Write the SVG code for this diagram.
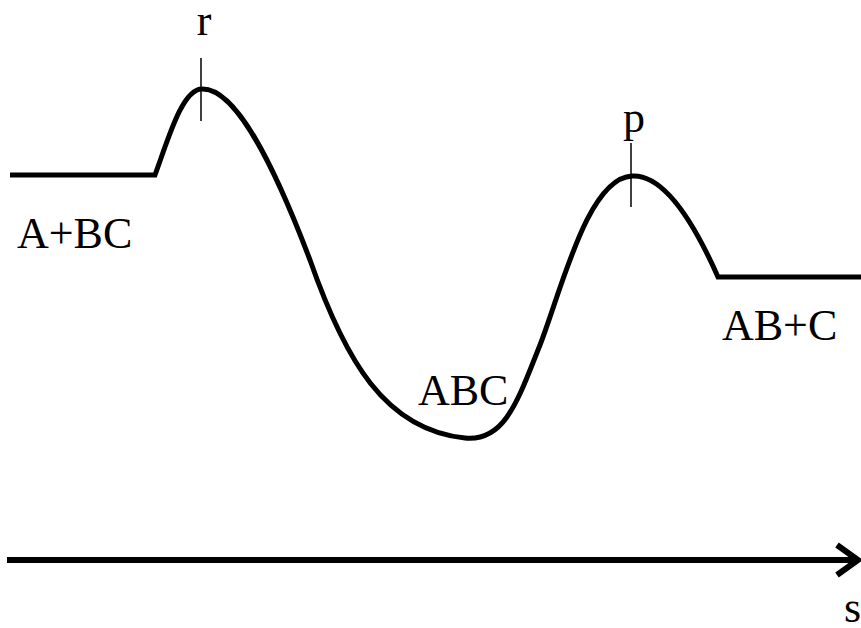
<svg xmlns="http://www.w3.org/2000/svg" width="861" height="628" viewBox="0 0 861 628">
<style>
text{font-family:"Liberation Serif","Times New Roman",serif;font-size:44px;fill:#000}
.curve{fill:none;stroke:#000;stroke-width:5;stroke-linejoin:miter}
.tick{stroke:#000;stroke-width:1.5}
.axis{fill:none;stroke:#000;stroke-width:6}
</style>
<rect width="861" height="628" fill="#fff"/>
<g id="connectors">
<path id="profile" class="curve" d="M10,175 H155 C168,140 182,89 202,89 C235,88 272,160 310,260 C345,360 385,430 465,438 C505,442 518,400 540,345 C562,288 588,178 632,176 C665,174 695,225 718,277 H861"/>
<line class="tick" x1="201" y1="58" x2="201" y2="121"/>
<line class="tick" x1="631" y1="143" x2="631" y2="207"/>
<line class="axis" x1="7" y1="560" x2="856" y2="560"/>
<polyline class="axis" points="837,545 858,560 837,575"/>
</g>
<g id="r"><text x="204" y="35" text-anchor="middle">r</text></g>
<g id="p"><text x="634" y="132" text-anchor="middle">p</text></g>
<g id="reactants"><text x="17" y="248">A+BC</text></g>
<g id="complex"><text x="418" y="405">ABC</text></g>
<g id="products"><text x="722" y="340">AB+C</text></g>
<g id="s"><text x="844" y="622">s</text></g>
</svg>
